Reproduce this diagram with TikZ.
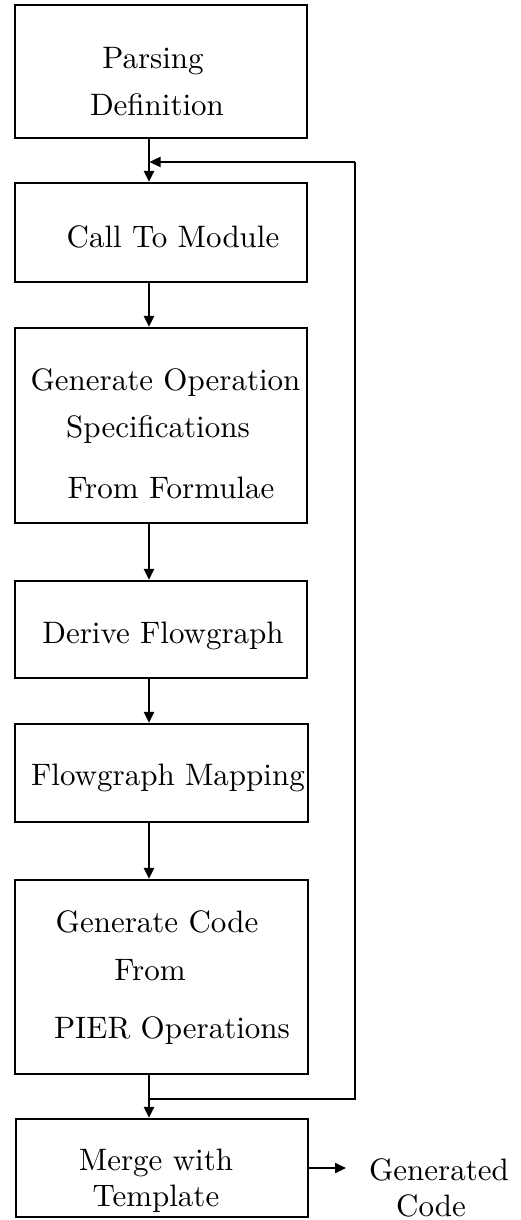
\documentclass[tikz,border=0pt]{standalone}
\usepackage{graphicx}
\usetikzlibrary{arrows.meta}
\newcommand{\bt}[1]{\scalebox{3.1}{#1}}
\begin{document}
\begin{tikzpicture}[x=1pt,y=-1pt,
  box/.style={draw,line width=2.3pt,inner sep=0pt,minimum width=292pt},
  txt/.style={anchor=base,inner sep=0pt},
  wire/.style={line width=2.3pt},
  arr/.style={line width=2.3pt,-{Triangle[length=11pt,width=10pt]}}]
\useasboundingbox (0,0) rectangle (520,1220);
% boxes
\node[box,minimum height=133pt] (b1) at (161,71.5) {};
\node[box,minimum height=99pt] (b2) at (161,232.5) {};
\node[box,minimum height=195pt] (b3) at (161,425.5) {};
\node[box,minimum height=97pt] (b4) at (161,629.5) {};
\node[box,minimum height=98pt,minimum width=293pt] (b5) at (161.5,773) {};
\node[box,minimum height=194pt,minimum width=293pt] (b6) at (161.5,977) {};
\node[box,minimum height=98pt] (b7) at (162,1168) {};
% texts
\node[txt] (t1a) at (153,69) {\bt{Parsing}};
\node[txt] (t1b) at (157,116) {\bt{Definition}};
\node[txt] (t2) at (173,247) {\bt{Call To Module}};
\node[txt] (t3a) at (165.5,390) {\bt{Generate Operation}};
\node[txt] (t3b) at (158,437) {\bt{Specifications}};
\node[txt] (t3c) at (171,498) {\bt{From Formulae}};
\node[txt] (t4) at (163,643) {\bt{Derive Flowgraph}};
\node[txt] (t5) at (168,785) {\bt{Flowgraph Mapping}};
\node[txt] (t6a) at (157,932) {\bt{Generate Code}};
\node[txt] (t6b) at (150,980) {\bt{From}};
\node[txt] (t6c) at (172,1038) {\bt{PIER Operations}};
\node[txt] (t7a) at (156,1170) {\bt{Merge with}};
\node[txt] (t7b) at (156,1206) {\bt{Template}};
\node[txt] (o1) at (439,1180) {\bt{Generated}};
\node[txt] (o2) at (431,1216) {\bt{Code}};
% coordinates
\coordinate (ax) at (149,0);
\coordinate (j1) at (149,162);
\coordinate (j2) at (149,1099);
\coordinate (c1) at (355,162);
\coordinate (c2) at (355,1099);
\coordinate (otip) at (346,1168);
% connectors
\draw[arr] (b1.south -| ax) -- (b2.north -| ax);
\draw[arr] (b2.south -| ax) -- (b3.north -| ax);
\draw[arr] (b3.south -| ax) -- (b4.north -| ax);
\draw[arr] (b4.south -| ax) -- (b5.north -| ax);
\draw[arr] (b5.south -| ax) -- (b6.north -| ax);
\draw[arr] (b6.south -| ax) -- (b7.north -| ax);
\draw[wire] (j2) -- (c2) -- (c1);
\draw[arr,shorten >=0.5pt] (c1) -- (j1);
\draw[arr] (b7.east) -- (otip);
\end{tikzpicture}
\end{document}
